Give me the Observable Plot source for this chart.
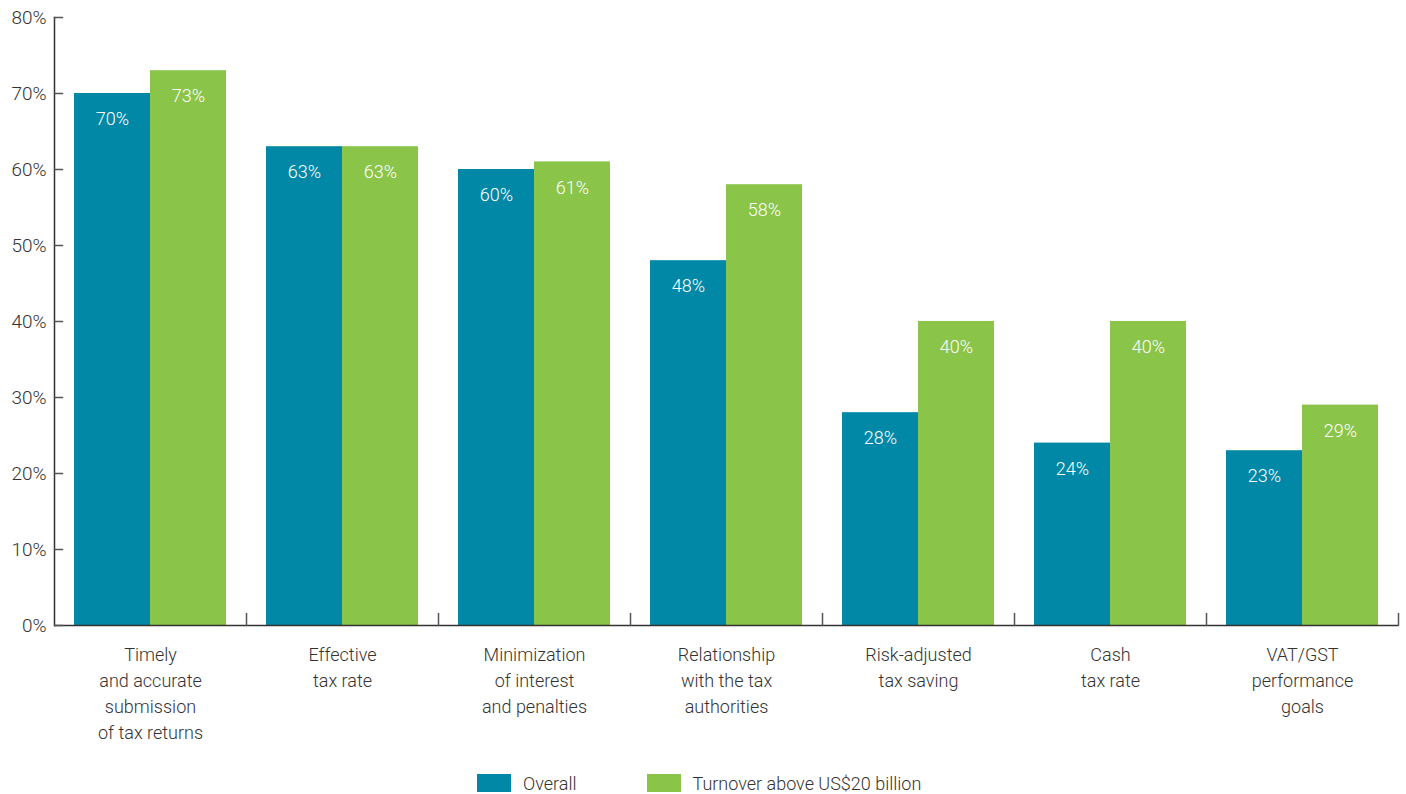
<!DOCTYPE html>
<html>
<head>
<meta charset="utf-8">
<script src="https://cdn.jsdelivr.net/npm/d3@7"></script>
<script src="https://cdn.jsdelivr.net/npm/@observablehq/plot@0.6"></script>
<style>
  body { margin: 0; background: #fff; font-family: "Roboto", sans-serif; font-weight: 300; color: #333; }
  #chart svg { display: block; }
  .legend { display: flex; align-items: center; height: 20px; margin-left: 477px; font-size: 18px; color: #333; }
  .legend .sw { width: 34px; height: 18px; display: inline-block; margin-right: 12px; }
  .legend .item { display: flex; align-items: center; margin-right: 70px; }
</style>
</head>
<body>
<div id="chart"></div>
<div class="legend" id="legend"></div>
<script>
const categories = [
  "Timely\nand accurate\nsubmission\nof tax returns",
  "Effective\ntax rate",
  "Minimization\nof interest\nand penalties",
  "Relationship\nwith the tax\nauthorities",
  "Risk-adjusted\ntax saving",
  "Cash\ntax rate",
  "VAT/GST\nperformance\ngoals"
];
const series = ["Overall", "Turnover above US$20 billion"];
const overall = [70, 63, 60, 48, 28, 24, 23];
const turnover = [73, 63, 61, 58, 40, 40, 29];
const yTicks = [0, 10, 20, 30, 40, 50, 60, 70, 80];
const colors = ["#0088A6", "#8AC449"];

const data = categories.flatMap((c, i) => [
  {category: c, series: series[0], value: overall[i]},
  {category: c, series: series[1], value: turnover[i]}
]);

const lineShape = {draw(ctx, l) { ctx.moveTo(0, 0); ctx.lineTo(0, -l); }};
const font = '"Roboto", sans-serif';

const chart = Plot.plot({
  width: 1406,
  height: 773,
  marginLeft: 52,
  marginRight: 7,
  marginTop: 17,
  marginBottom: 148,
  style: {fontFamily: font, fontSize: "18px", fontWeight: 300, color: "#333", background: "#fff"},
  fx: {domain: categories, padding: 0, label: null},
  x: {domain: series, paddingInner: 0, paddingOuter: 0.25, axis: null},
  y: {domain: [0, 80], ticks: yTicks, label: null},
  color: {domain: series, range: colors},
  marks: [
    Plot.barY(data, {fx: "category", x: "series", y: "value", fill: "series"}),
    Plot.text(data, {fx: "category", x: "series", y: "value", text: d => d.value + "%", fill: "white", dy: 26, fontSize: 18, fontWeight: 300}),
    Plot.ruleY([0], {stroke: "#333", strokeWidth: 1.5}),
    Plot.frame({anchor: "left", facetAnchor: "left", stroke: "#333", strokeWidth: 1.5}),
    Plot.vector(yTicks, {y: d => d, frameAnchor: "left", facetAnchor: "left", rotate: 90, length: 8, anchor: "start", shape: lineShape, stroke: "#555"}),
    Plot.vector([0], {frameAnchor: "bottom-right", rotate: 0, length: 12, anchor: "start", shape: lineShape, stroke: "#555"}),
    Plot.axisY({ticks: yTicks, tickSize: 0, tickPadding: 8, tickFormat: d => d + "%", fontSize: 19, label: null}),
    Plot.axisFx({anchor: "bottom", tickSize: 0, tickPadding: 17, lineHeight: 1.45, fontSize: 18, label: null})
  ]
});
document.getElementById("chart").appendChild(chart);

const legend = document.getElementById("legend");
series.forEach((s, i) => {
  const item = document.createElement("div");
  item.className = "item";
  const sw = document.createElement("span");
  sw.className = "sw";
  sw.style.background = colors[i];
  item.appendChild(sw);
  item.appendChild(document.createTextNode(s));
  legend.appendChild(item);
});
</script>
</body>
</html>
